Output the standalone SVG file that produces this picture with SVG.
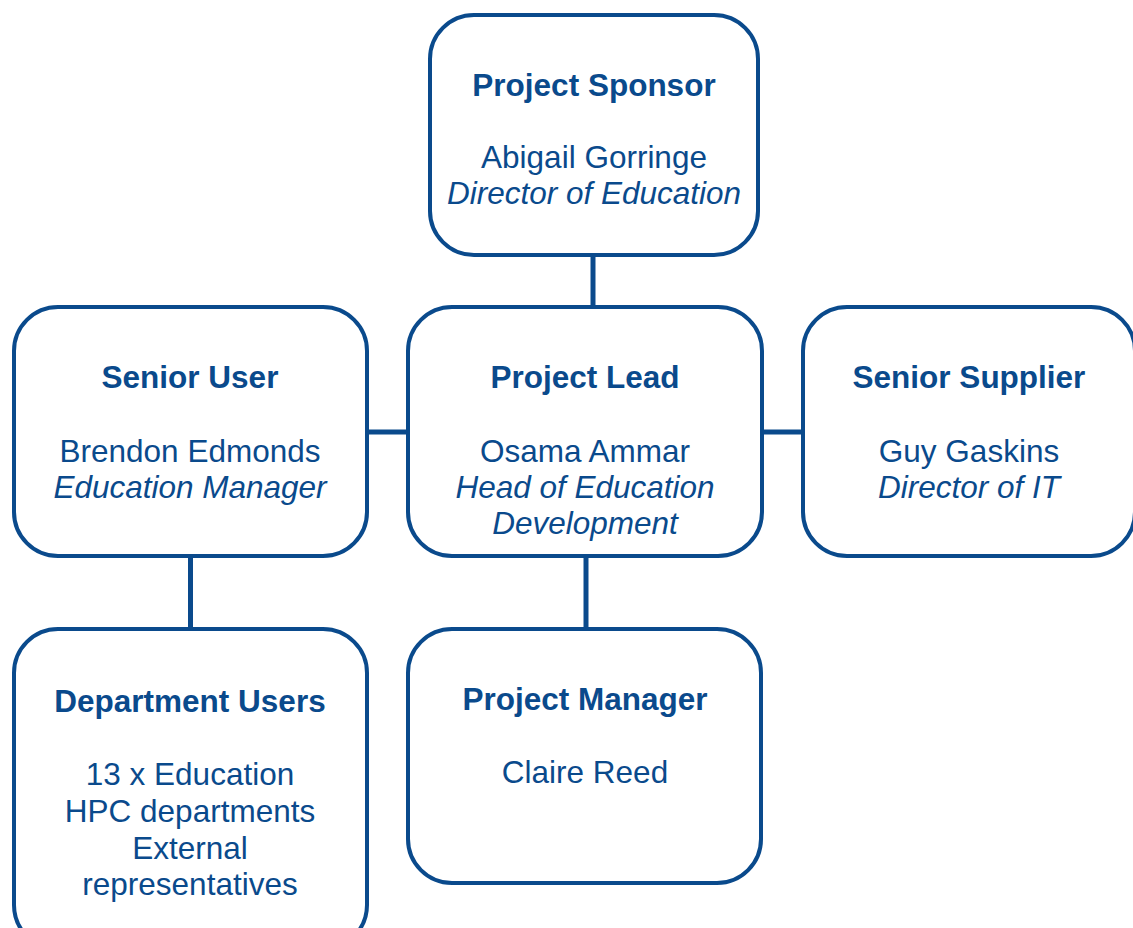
<svg xmlns="http://www.w3.org/2000/svg" width="1133" height="928" viewBox="0 0 1133 928">
<style>
.box{fill:#ffffff;stroke:#0a4a8c;stroke-width:4}
.conn{stroke:#0a4a8c;stroke-width:5;fill:none}
text{font-family:"Liberation Sans",Arial,sans-serif;font-size:31.5px;fill:#0a4a8c;text-anchor:middle}
.t{font-weight:bold}
.i{font-style:italic}
</style>
<rect width="1133" height="928" fill="#ffffff"/>
<g id="connectors">
<line class="conn" x1="593" y1="255" x2="593" y2="308"/>
<line class="conn" x1="367" y1="432" x2="408" y2="432"/>
<line class="conn" x1="762" y1="432" x2="803" y2="432"/>
<line class="conn" x1="190.5" y1="556" x2="190.5" y2="629"/>
<line class="conn" x1="586" y1="556" x2="586" y2="629"/>
</g>
<g id="project-sponsor">
<rect class="box" x="430" y="15" width="328" height="240" rx="44"/>
<text class="t" x="594" y="96">Project Sponsor</text>
<text x="594" y="168">Abigail Gorringe</text>
<text class="i" x="594" y="204">Director of Education</text>
</g>
<g id="senior-user">
<rect class="box" x="14" y="307" width="353" height="249" rx="44"/>
<text class="t" x="190" y="388">Senior User</text>
<text x="190" y="462">Brendon Edmonds</text>
<text class="i" x="190" y="498">Education Manager</text>
</g>
<g id="project-lead">
<rect class="box" x="408" y="307" width="354" height="249" rx="44"/>
<text class="t" x="585" y="388">Project Lead</text>
<text x="585" y="462">Osama Ammar</text>
<text class="i" x="585" y="498">Head of Education</text>
<text class="i" x="585" y="534">Development</text>
</g>
<g id="senior-supplier">
<rect class="box" x="803" y="307" width="332" height="249" rx="44"/>
<text class="t" x="969" y="388">Senior Supplier</text>
<text x="969" y="462">Guy Gaskins</text>
<text class="i" x="969" y="498">Director of IT</text>
</g>
<g id="department-users">
<rect class="box" x="14" y="629" width="353" height="320" rx="44"/>
<text class="t" x="190" y="712">Department Users</text>
<text x="190" y="785">13 x Education</text>
<text x="190" y="822">HPC departments</text>
<text x="190" y="859">External</text>
<text x="190" y="895">representatives</text>
</g>
<g id="project-manager">
<rect class="box" x="408" y="629" width="353" height="254" rx="44"/>
<text class="t" x="585" y="710">Project Manager</text>
<text x="585" y="783">Claire Reed</text>
</g>
</svg>
